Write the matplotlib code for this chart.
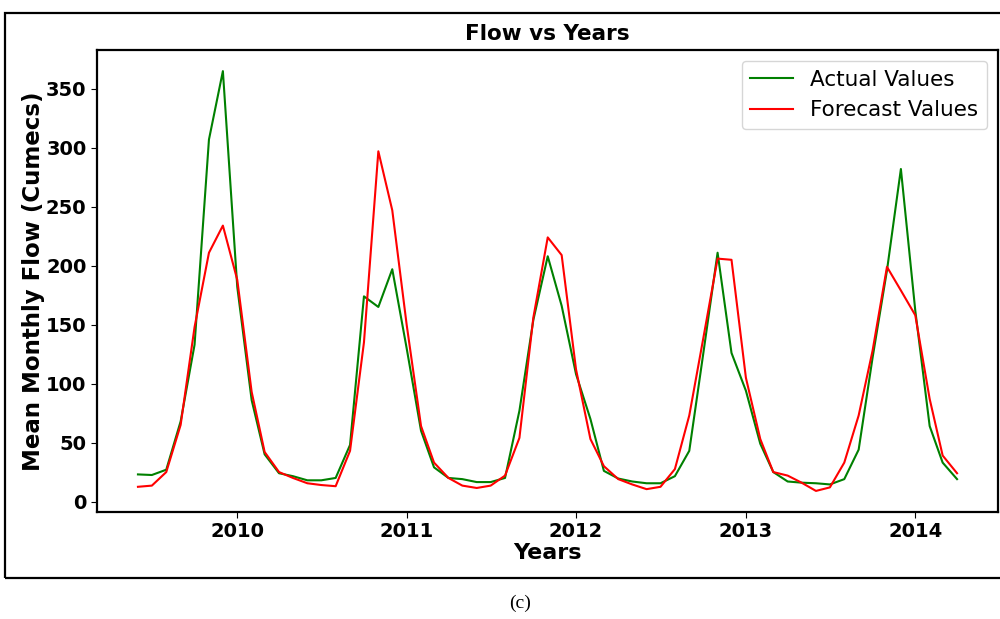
import numpy as np
import pandas as pd
import matplotlib
matplotlib.use("Agg")
import matplotlib.pyplot as plt
import matplotlib.dates as mdates
from matplotlib.patches import Rectangle

# monthly series, June 2009 .. April 2014
MONTHS = pd.date_range("2009-06-01", "2014-04-01", freq="MS")

ACTUAL = [
    23, 22.5, 27, 68, 133, 307, 365,
    182, 86, 40, 24, 21.5, 18, 18, 20, 48, 174, 165, 197,
    130, 60, 29, 20, 19, 16.5, 16.5, 20, 77, 154, 208, 166,
    108, 70, 26, 19.5, 17, 15.5, 15.5, 21.5, 43, 125, 211, 126,
    94, 49, 25, 17, 16, 15.5, 14.5, 19, 44, 122, 196, 282,
    162, 64, 33, 19,
]
FORECAST = [
    12.5, 13.5, 25, 65, 148, 211, 234,
    188, 93, 42, 25, 20, 15.5, 14, 13, 43, 135, 297, 247,
    150, 64, 33, 20, 13.5, 11.5, 13.5, 22, 54, 156, 224, 209,
    112, 53, 30, 19, 14.5, 10.5, 12.5, 27.5, 73, 138, 206, 205,
    105, 53, 25, 22, 16, 9, 12, 33, 73, 128, 199, 179,
    158, 87, 39, 24,
]

fig = plt.figure(figsize=(10, 6.19), dpi=100)
ax = fig.add_axes([0.097, 0.173, 0.901, 0.746])

ax.plot(MONTHS, ACTUAL, color="green", lw=1.5, label="Actual Values")
ax.plot(MONTHS, FORECAST, color="red", lw=1.5, label="Forecast Values")

ax.xaxis.set_major_locator(mdates.YearLocator())
ax.xaxis.set_major_formatter(mdates.DateFormatter("%Y"))
ax.set_yticks(np.arange(0, 351, 50))

for lbl in ax.get_xticklabels() + ax.get_yticklabels():
    lbl.set_fontweight("bold")
ax.tick_params(labelsize=14, length=4)
for sp in ax.spines.values():
    sp.set_linewidth(1.6)

ax.set_title("Flow vs Years", fontsize=15.5, fontweight="bold", pad=7)
ax.set_xlabel("Years", fontsize=16, fontweight="bold", labelpad=1)
ax.set_ylabel("Mean Monthly Flow (Cumecs)", fontsize=16.5, fontweight="bold", labelpad=1)
ax.legend(loc="upper right", fontsize=15.5)

# outer frame of the embedded panel and its caption
fig.patches.append(Rectangle((0.005, 0.066), 1.2, 0.913, transform=fig.transFigure,
                             fill=False, edgecolor="black", lw=1.6))
fig.text(0.52, 0.026, "(c)", ha="center", va="center", fontsize=14, family="Liberation Serif")

fig.savefig("out.png", dpi=100)
